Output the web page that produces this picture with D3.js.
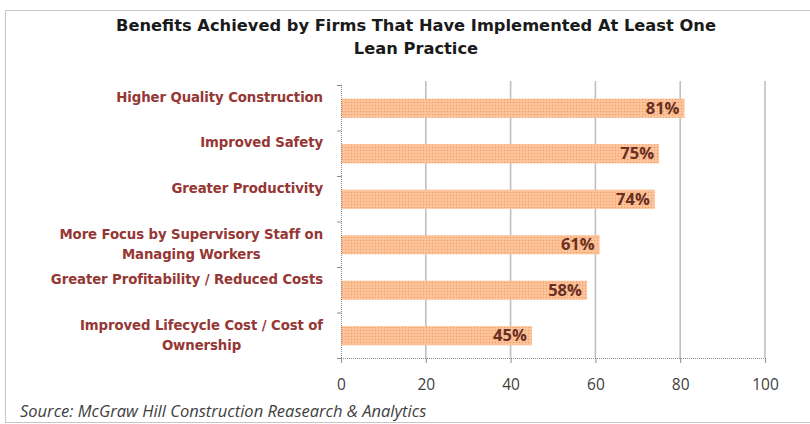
<!DOCTYPE html>
<html>
<head>
<meta charset="utf-8">
<script src="https://cdn.jsdelivr.net/npm/d3@7"></script>
<style>
  html, body { margin: 0; padding: 0; background: #fff; }
  svg { display: block; }
</style>
</head>
<body>
<svg id="chart" width="810" height="424"></svg>
<script>
const categories = [
  ["Higher Quality Construction"],
  ["Improved Safety"],
  ["Greater Productivity"],
  ["More Focus by Supervisory Staff on", "Managing Workers"],
  ["Greater Profitability / Reduced Costs"],
  ["Improved Lifecycle Cost / Cost of", "Ownership"]
];
const values = [81, 75, 74, 61, 58, 45];
const xTicks = [0, 20, 40, 60, 80, 100];
const titleLines = ["Benefits Achieved by  Firms That Have Implemented At Least One", "Lean Practice"];
const sourceText = "Source: McGraw Hill Construction Reasearch & Analytics";

const svg = d3.select("#chart");
const W = 810, H = 424;
const plot = { left: 341, right: 765, top: 85, bottom: 358 };

// pattern
const defs = svg.append("defs");
const pat = defs.append("pattern").attr("id", "dots").attr("patternUnits", "userSpaceOnUse")
  .attr("width", 3).attr("height", 3);
pat.append("rect").attr("width", 3).attr("height", 3).attr("fill", "#fbc096");
pat.append("rect").attr("x", 0).attr("y", 0).attr("width", 1).attr("height", 1).attr("fill", "#f59a5a");
pat.append("rect").attr("x", 1.5).attr("y", 1.5).attr("width", 1).attr("height", 1).attr("fill", "#fdd3b0");

// border
svg.append("rect").attr("x", 5.5).attr("y", 10.5).attr("width", 808).attr("height", 412)
  .attr("fill", "none").attr("stroke", "#8c8c8c").attr("stroke-width", 1)
  .attr("stroke-dasharray", "1,1");

// title
const title = svg.append("text").attr("text-anchor", "middle")
  .attr("font-family", "'DejaVu Sans'").attr("font-weight", "bold").attr("font-size", 16.3)
  .attr("fill", "#1a1a1a");
titleLines.forEach((t, i) => {
  title.append("tspan").attr("x", 416).attr("y", 31 + i * 23).text(t);
});

const x = d3.scaleLinear().domain([0, 100]).range([plot.left, plot.right]);
const y = d3.scaleBand().domain(d3.range(categories.length)).range([plot.top, plot.bottom]).paddingInner(0.58).paddingOuter(0.29);
const yb = d3.scaleBand().domain(d3.range(categories.length)).range([plot.top, plot.bottom]);

// gridlines
svg.append("g").selectAll("line").data(xTicks.filter(d => d > 0)).join("line")
  .attr("x1", d => x(d)).attr("x2", d => x(d))
  .attr("y1", plot.top - 4).attr("y2", plot.bottom)
  .attr("stroke", "#c0c0c0").attr("stroke-width", 1.6);

// bars
svg.append("g").selectAll("rect").data(values).join("rect")
  .attr("x", x(0)).attr("y", (d, i) => y(i) + 0.5)
  .attr("width", d => x(d) - x(0)).attr("height", y.bandwidth())
  .attr("fill", "url(#dots)");

// value labels
svg.append("g").selectAll("text").data(values).join("text")
  .attr("x", d => x(d) - 5).attr("y", (d, i) => y(i) + y.bandwidth() / 2 + 6)
  .attr("text-anchor", "end")
  .attr("font-family", "'Open Sans'").attr("font-weight", "bold").attr("font-size", 16.5)
  .attr("fill", "#6a2e22")
  .text(d => d + "%");

// axes (dotted)
const xAxis = d3.axisBottom(x).tickValues(xTicks).tickSize(5).tickPadding(16);
const gx = svg.append("g").attr("transform", `translate(0,${plot.bottom})`).call(xAxis);
gx.select(".domain").attr("stroke", "#8c8c8c").attr("stroke-dasharray", "1,1");
gx.selectAll(".tick line").attr("stroke", "#8c8c8c");
gx.selectAll(".tick text").attr("font-family", "'Open Sans'").attr("font-size", 15.5).attr("fill", "#404040");

const gy = svg.append("g");
gy.append("line").attr("x1", plot.left + 0.5).attr("x2", plot.left + 0.5)
  .attr("y1", plot.top).attr("y2", plot.bottom)
  .attr("stroke", "#8c8c8c").attr("stroke-dasharray", "1,1");
gy.selectAll("line.tk").data(d3.range(categories.length + 1)).join("line").attr("class", "tk")
  .attr("x1", plot.left - 4).attr("x2", plot.left + 0.5)
  .attr("y1", i => (i < categories.length ? yb(i) : plot.bottom) + 0.5)
  .attr("y2", i => (i < categories.length ? yb(i) : plot.bottom) + 0.5)
  .attr("stroke", "#8c8c8c");

// category labels
const lh = 19.5;
const labs = svg.append("g").selectAll("text").data(categories).join("text")
  .attr("text-anchor", "middle")
  .attr("font-family", "'DejaVu Sans'").attr("font-weight", "bold").attr("font-size", 13.3)
  .attr("fill", "#953735")
  .attr("letter-spacing", -0.1);
labs.each(function(lines, i) {
  const cy = yb(i) + yb.bandwidth() / 2;
  const n = lines.length;
  const start = n === 1 ? cy - 11 : cy - (n - 1) * lh / 2;
  const sel = d3.select(this);
  lines.forEach((t, j) => {
    sel.append("tspan").attr("y", start + j * lh + 4.8).text(t);
  });
});
labs.each(function(lines) {
  const tsp = d3.select(this).selectAll("tspan").nodes();
  const widths = tsp.map(n => n.getComputedTextLength());
  const maxW = Math.max(...widths);
  const cx = 323 - maxW / 2;
  tsp.forEach(n => d3.select(n).attr("x", cx));
});

// source
svg.append("text").attr("x", 20).attr("y", 417)
  .attr("font-family", "'Open Sans'").attr("font-style", "italic").attr("font-size", 16.5)
  .attr("fill", "#404040").text(sourceText);
</script>
</body>
</html>
